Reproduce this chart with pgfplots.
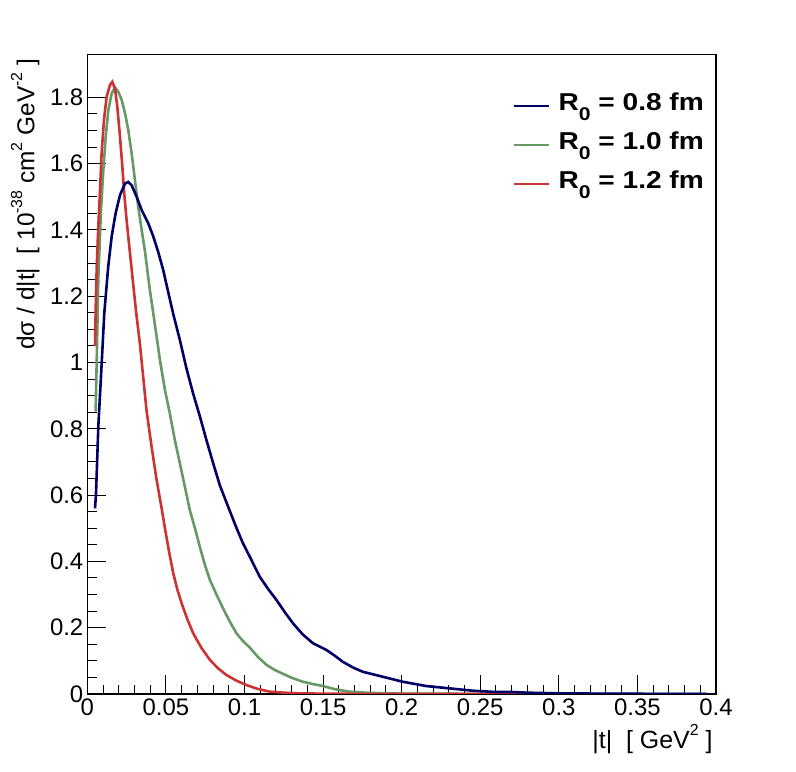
\documentclass[border=0pt]{standalone}
\usepackage{fontspec}
\setmainfont{Liberation Sans}
\newfontfamily\legfont[FakeStretch=1.15]{Liberation Sans}
\usepackage{pgfplots}
\pgfplotsset{compat=1.18}
\definecolor{cblue}{RGB}{0,0,102}
\definecolor{cgreen}{RGB}{102,153,102}
\definecolor{cred}{RGB}{204,51,51}
\newcommand{\sups}[1]{\raisebox{0.5em}{\fontsize{16}{16}\selectfont #1}}
\newcommand{\subz}{\raisebox{-0.42em}{\fontsize{18.5}{18.5}\selectfont\bfseries 0}}
\begin{document}
\begin{tikzpicture}
\begin{axis}[name=ax, scale only axis, width=628.7bp, height=639.7bp,
  xmin=0, xmax=0.4, ymin=0, ymax=1.93,
  axis line style={line width=1.1bp},
  tick style={line width=1bp, black},
  tick align=inside, xtick pos=left, ytick pos=left,
  xtick={0,0.05,0.1,0.15,0.2,0.25,0.3,0.35,0.4},
  ytick={0,0.2,0.4,0.6,0.8,1,1.2,1.4,1.6,1.8},
  minor x tick num=4, minor y tick num=3,
  major tick length=19bp, minor tick length=9.5bp,
  /pgf/number format/assume math mode=true,
  /pgf/number format/fixed, /pgf/number format/precision=2,
  tick label style={font=\fontsize{24}{24}\selectfont},
  xticklabel style={yshift=-1bp},
  yticklabel style={xshift=-0.5bp},
  legend style={at={(0.677,0.9395)}, anchor=north west, draw=none, fill=none,
    font=\fontsize{24.5}{24.5}\selectfont\legfont\bfseries, inner sep=0pt,
    nodes={inner sep=0pt, text height=17bp, text depth=5bp}, row sep=17bp, column sep=0pt},
  legend cell align=left,
  legend image code/.code={\draw[#1, line width=2.6bp] (0bp,-2bp) -- (35bp,-2bp); \path (44bp,0) circle (0);},
]
\addlegendimage{cblue}
\addlegendentry{R\subz\ = 0.8 fm}
\addlegendimage{cgreen}
\addlegendentry{R\subz\ = 1.0 fm}
\addlegendimage{cred}
\addlegendentry{R\subz\ = 1.2 fm}

\addplot[forget plot, cgreen, line width=2.6bp] coordinates {
(0.0053,0.852)(0.006,1.008)(0.007,1.25)(0.0087,1.46)(0.0102,1.581)(0.0117,1.681)(0.0134,1.762)(0.0155,1.812)(0.0176,1.83)(0.0197,1.817)(0.0219,1.792)(0.024,1.752)(0.0261,1.701)(0.0282,1.631)(0.0303,1.551)(0.0324,1.47)(0.0346,1.40)(0.0367,1.335)(0.0398,1.219)(0.042,1.148)(0.0441,1.078)(0.0462,1.008)(0.0494,0.917)(0.0525,0.847)(0.0557,0.766)(0.0589,0.696)(0.0621,0.625)(0.0652,0.555)(0.0685,0.5)(0.0716,0.444)(0.0748,0.39)(0.078,0.344)(0.0822,0.3)(0.0864,0.258)(0.0905,0.22)(0.0949,0.183)(0.099,0.16)(0.1034,0.14)(0.1085,0.112)(0.114,0.088)(0.119,0.073)(0.1245,0.061)(0.1305,0.048)(0.1372,0.037)(0.1435,0.03)(0.1499,0.024)(0.158,0.014)(0.1669,0.007)(0.177,0.004)(0.188,0.002)(0.2,0.0012)(0.22,0.0008)(0.26,0.0003)(0.3,0.0001)(0.394,0)
};
\addplot[forget plot, cred, line width=2.6bp] coordinates {
(0.0049,1.05)(0.0055,1.2)(0.006,1.289)(0.007,1.41)(0.0081,1.52)(0.0091,1.631)(0.0106,1.731)(0.0123,1.802)(0.0144,1.837)(0.0159,1.847)(0.0176,1.827)(0.0191,1.772)(0.0208,1.681)(0.0223,1.591)(0.0235,1.51)(0.025,1.43)(0.0265,1.36)(0.0289,1.25)(0.031,1.155)(0.0335,1.055)(0.0356,0.955)(0.0377,0.855)(0.0409,0.746)(0.0441,0.646)(0.0473,0.56)(0.0494,0.5)(0.052,0.43)(0.0547,0.364)(0.0573,0.315)(0.06,0.274)(0.0637,0.225)(0.0674,0.183)(0.0725,0.14)(0.078,0.103)(0.0833,0.077)(0.0886,0.057)(0.095,0.04)(0.1013,0.027)(0.108,0.016)(0.116,0.007)(0.125,0.004)(0.135,0.002)(0.15,0.001)(0.17,0.0005)(0.21,0.0001)(0.3,0)
};
\addplot[forget plot, cblue, line width=2.6bp] coordinates {
(0.0049,0.56)(0.0055,0.6)(0.006,0.666)(0.007,0.806)(0.0087,0.957)(0.0108,1.148)(0.0133,1.289)(0.0155,1.38)(0.018,1.45)(0.0208,1.505)(0.024,1.54)(0.026,1.545)(0.0282,1.535)(0.0314,1.50)(0.0346,1.46)(0.0388,1.42)(0.042,1.38)(0.0451,1.334)(0.0483,1.279)(0.0504,1.235)(0.0546,1.148)(0.0589,1.068)(0.0631,0.982)(0.0673,0.907)(0.0716,0.838)(0.0758,0.766)(0.0801,0.696)(0.0843,0.63)(0.0896,0.565)(0.095,0.5)(0.099,0.455)(0.1034,0.414)(0.1097,0.354)(0.115,0.317)(0.1203,0.284)(0.1255,0.248)(0.1309,0.213)(0.137,0.18)(0.1436,0.153)(0.1521,0.133)(0.157,0.117)(0.1626,0.097)(0.169,0.08)(0.1753,0.067)(0.188,0.052)(0.2007,0.037)(0.2156,0.024)(0.2304,0.017)(0.245,0.01)(0.26,0.006)(0.27,0.006)(0.28,0.004)(0.3,0.002)(0.33,0.001)(0.36,0.0005)(0.394,0.0003)
};
\end{axis}
\node[rotate=90, anchor=east, font=\fontsize{24.5}{24.5}\selectfont] at ([xshift=-62bp,yshift=-1bp]ax.north west)
  {dσ / d|t|\ \ [ 10\sups{-38} cm\sups{2} GeV\sups{-2} ]};
\node[anchor=base east, font=\fontsize{25}{25}\selectfont] at ([yshift=-54bp]ax.south east)
  {|t|\ \ [ GeV\sups{2} ]};
\pgfresetboundingbox
\path ([xshift=-87.3bp,yshift=-78bp]ax.south west) rectangle ([xshift=80bp,yshift=54.3bp]ax.north east);
\end{tikzpicture}
\end{document}
